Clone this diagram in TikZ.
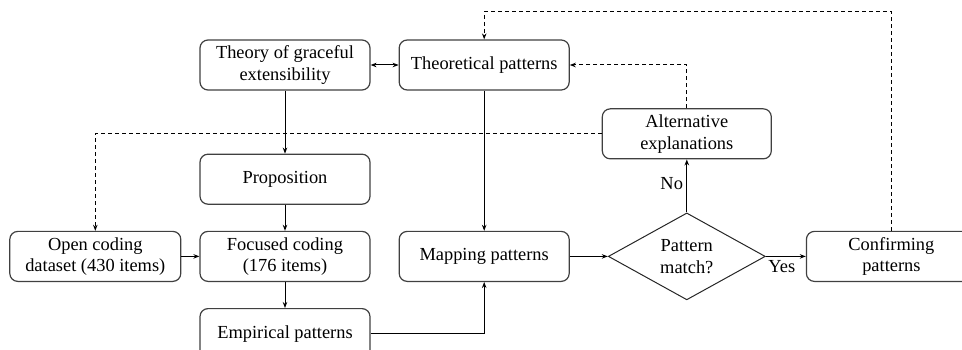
\documentclass[tikz,border=0pt]{standalone}
\usepackage{fontspec}
\setmainfont{Liberation Serif}
\usetikzlibrary{positioning,arrows.meta,shapes.geometric}

\begin{document}
\begin{tikzpicture}[->,>={Stealth[length=6pt,width=4.5pt]},line width=1pt,
   node distance=26pt and 28pt,
   font=\fontsize{18.4}{21.5}\selectfont,
   box/.style={draw=black!75,line width=1.2pt,rounded corners=8pt,
     minimum width=170pt,minimum height=50pt,align=center,inner sep=3pt},
   decision/.style={draw=black!85,diamond,minimum width=157pt,
     minimum height=80pt,inner sep=0pt,align=center},
   feedback/.style={dashed,dash pattern=on 4pt off 3pt}]
  \useasboundingbox (0,0) rectangle (962pt,-350pt);
  \clip (0,0) rectangle (962pt,-350pt);
  \node[box] (T) at (285pt,-65pt) {Theory of graceful\\extensibility};
  \node[box] (TP) [right=of T] {Theoretical patterns};
  \node[box] (P) [below=63pt of T] {Proposition};
  \node[box] (F) [below=of P] {Focused coding\\(176 items)};
  \node[box,minimum width=171pt] (O) [left=18pt of F] {Open coding\\dataset (430 items)};
  \node[box] (E) [below=of F] {Empirical patterns};
  \node[box] (M) [right=of F] {Mapping patterns};
  \node[decision] (D) [right=38pt of M] {Pattern\\match?};
  \node[box,minimum width=169pt] (A) [above=53pt of D] {Alternative\\explanations};
  \node[box] (C) [right=40pt of D] {Confirming\\patterns};
  % solid flow
  \path
   (T) edge[<->] (TP)
   (T) edge (P)
   (P) edge (F)
   (O) edge (F)
   (F) edge (E)
   (TP) edge (M)
   (M) edge (D)
   (D) edge node[left,pos=0.55]{No} (A)
   (D) edge node[below,pos=0.4]{Yes} (C);
  \draw (E.east) -| (M.south);
  % feedback loops
  \draw[feedback] (C.north) |- ([yshift=28pt]TP.north) -- (TP.north);
  \draw[feedback] (A.north) |- (TP.east);
  \draw[feedback] (A.west) -| (O.north);
\end{tikzpicture}
\end{document}
